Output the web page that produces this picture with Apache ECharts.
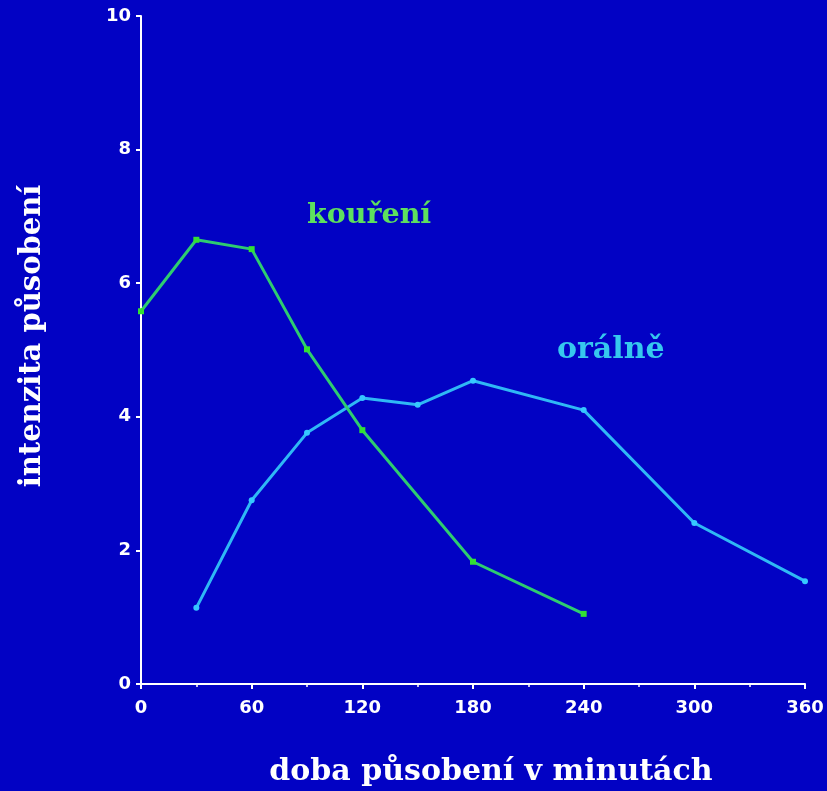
<!DOCTYPE html>
<html lang="cs">
<head>
    <meta charset="utf-8"/>
    <script src="https://cdn.jsdelivr.net/npm/echarts@6.0.0/dist/echarts.min.js"></script>
    <title></title>
    <style>
        html, body { margin: 0; padding: 0; background: #0202c4; }
        #main { width: 827px; height: 791px; }
    </style>
</head>
<body>
<div id="main"></div>
<script type="text/javascript">

    // kouření (smoking)
    var smokeMinutes = [0, 30, 60, 90, 120, 180, 240];
    var smokeValues = [5.58, 6.65, 6.51, 5.01, 3.80, 1.83, 1.05];

    // orálně (oral)
    var oralMinutes = [30, 60, 90, 120, 150, 180, 240, 300, 360];
    var oralValues = [1.14, 2.75, 3.76, 4.28, 4.18, 4.54, 4.10, 2.41, 1.54];

    var xTitle = 'doba působení v minutách';
    var yTitle = 'intenzita působení';

    function pairs(xs, ys) {
        return xs.map(function (x, i) { return [x, ys[i]]; });
    }

    var myChart = echarts.init(document.getElementById('main'));

    var tickLabel = {
        color: '#ffffff',
        fontFamily: 'DejaVu Sans',
        fontWeight: 'bold',
        fontSize: 18
    };

    var titleStyle = {
        color: '#ffffff',
        fontFamily: 'DejaVu Serif',
        fontWeight: 'bold'
    };

    option = {
        backgroundColor: '#0202c4',
        animation: false,
        grid: {
            left: 141,
            right: 22,
            top: 16,
            bottom: 107,
            containLabel: false,
            outerBoundsMode: 'none'
        },
        xAxis: {
            type: 'value',
            min: 0,
            max: 360,
            interval: 60,
            axisLine: { lineStyle: { color: '#ffffff', width: 2 } },
            axisTick: { length: 5, lineStyle: { color: '#ffffff', width: 2 } },
            minorTick: { show: true, splitNumber: 2, length: 3, lineStyle: { color: '#ffffff', width: 1.5 } },
            splitLine: { show: false },
            axisLabel: Object.assign({ margin: 15 }, tickLabel),
            name: xTitle,
            nameLocation: 'middle',
            nameGap: 73,
            nameTextStyle: Object.assign({ padding: [0, 0, 0, 36], fontSize: 30 }, titleStyle)
        },
        yAxis: {
            type: 'value',
            min: 0,
            max: 10,
            interval: 2,
            axisLine: { show: true, lineStyle: { color: '#ffffff', width: 2 } },
            axisTick: { show: true, length: 5, lineStyle: { color: '#ffffff', width: 2 } },
            splitLine: { show: false },
            axisLabel: Object.assign({ margin: 10 }, tickLabel),
            name: yTitle,
            nameLocation: 'middle',
            nameGap: 94,
            nameTextStyle: Object.assign({ padding: [0, 0, 0, 28], fontSize: 29 }, titleStyle)
        },
        graphic: [
            {
                type: 'text',
                left: 307,
                top: 201,
                style: {
                    text: 'kouření',
                    fill: '#5ee05e',
                    font: 'bold 28.5px "DejaVu Serif"'
                }
            },
            {
                type: 'text',
                left: 557,
                top: 335,
                style: {
                    text: 'orálně',
                    fill: '#36c8ee',
                    font: 'bold 30px "DejaVu Serif"'
                }
            }
        ],
        series: [
            {
                name: 'orálně',
                type: 'line',
                data: pairs(oralMinutes, oralValues),
                symbol: 'circle',
                symbolSize: 6,
                lineStyle: { color: '#2fb8f5', width: 3 },
                itemStyle: { color: '#36c8ff' }
            },
            {
                name: 'kouření',
                type: 'line',
                data: pairs(smokeMinutes, smokeValues),
                symbol: 'rect',
                symbolSize: 6,
                lineStyle: { color: '#2ecc70', width: 3 },
                itemStyle: { color: '#33e033' }
            }
        ]
    };
    myChart.setOption(option);

</script>
</body>
</html>
